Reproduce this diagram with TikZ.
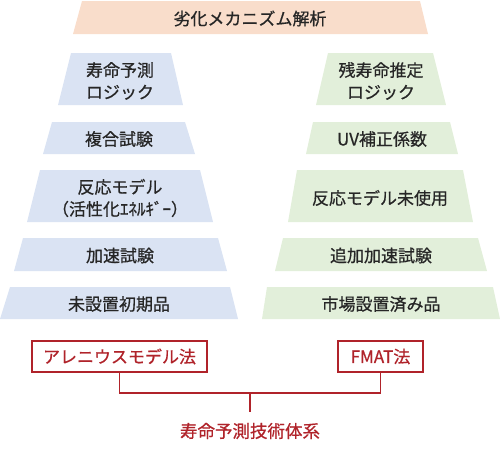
\documentclass[tikz,border=0pt]{standalone}
\usepackage{fontspec}
\newfontfamily\jp{Noto Sans CJK JP}[FakeBold=0.6]
\definecolor{peach}{HTML}{F9DDCB}
\definecolor{lblue}{HTML}{DAE3F3}
\definecolor{lgreen}{HTML}{E2EFDA}
\definecolor{dred}{HTML}{B0232A}
\definecolor{txt}{HTML}{262626}
\tikzset{
  lbl/.style={font=\jp\fontsize{17}{22}\selectfont, text=txt, align=center, inner sep=0pt},
  rbox/.style={draw=dred, line width=1.3pt, fill=white, minimum height=31pt, inner sep=0pt, font=\jp\fontsize{17}{22}\selectfont, text=dred},
  rline/.style={draw=dred, line width=1.3pt},
  rlbl/.style={font=\jp\fontsize{17.5}{22}\selectfont, text=dred, inner sep=0pt}
}
% trapezoid: colour, top y, bottom y, top left, top right, bottom left, bottom right
\newcommand{\trap}[7]{\fill[#1] (#4,#2) -- (#5,#2) -- (#7,#3) -- (#6,#3) -- cycle;}
\begin{document}
\begin{tikzpicture}[x=1pt,y=-1pt]
\useasboundingbox (0,0) rectangle (500,451);
% top
\trap{peach}{1}{34}{82}{420}{73}{428}
\node[lbl] (top) at (250,18.5) {劣化メカニズム解析};
% left column
\trap{lblue}{53}{105}{71}{171}{58}{183}
\trap{lblue}{122}{154}{52}{185}{43}{195}
\trap{lblue}{170}{222}{40}{200}{27}{213}
\trap{lblue}{238}{271}{23}{218}{14}{227}
\trap{lblue}{287}{319}{10}{230}{0}{238}
\node[lbl] (l1) at (120,81) {寿命予測\\ロジック};
\node[lbl] (l2) at (119,139) {複合試験};
\node[lbl] (l3) at (120,198) {反応モデル\\（活性化ｴﾈﾙｷﾞｰ）};
\node[lbl] (l4) at (120,255.5) {加速試験};
\node[lbl] (l5) at (119,304) {未設置初期品};
% right column
\trap{lgreen}{53}{105}{328}{433}{316}{446}
\trap{lgreen}{122}{154}{313}{450}{306}{458}
\trap{lgreen}{170}{222}{297}{463}{288}{473}
\trap{lgreen}{238}{271}{283}{478}{275}{487}
\trap{lgreen}{287}{319}{267}{493}{262}{500}
\node[lbl] (r1) at (381,81) {残寿命推定\\ロジック};
\node[lbl] (r2) at (382,139) {UV補正係数};
\node[lbl] (r3) at (380,198) {反応モデル未使用};
\node[lbl] (r4) at (381,255.5) {追加加速試験};
\node[lbl] (r5) at (381,304) {市場設置済み品};
% red boxes
\node[rbox, minimum width=175pt] (arr) at (119.5,356.5) {アレニウスモデル法};
\node[rbox, minimum width=85pt] (fmat) at (380.5,356.5) {FMAT法};
\coordinate (j) at (250,393);
\draw[rline] (arr.south) |- (j) -| (fmat.south);
\node[rlbl] (sys) at (250,431) {寿命予測技術体系};
\draw[rline] (j) -- (250,412);
\end{tikzpicture}
\end{document}
